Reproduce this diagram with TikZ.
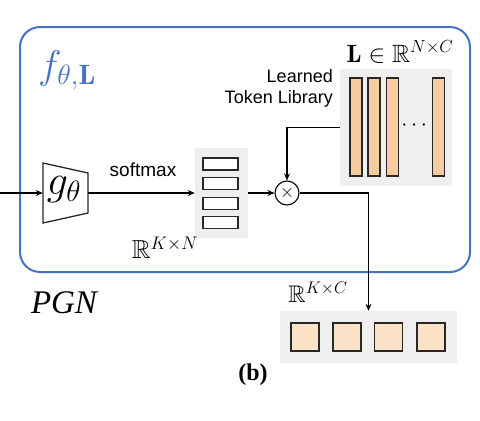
\RequirePackage{fix-cm}
\documentclass[tikz,border=0pt]{standalone}
\usepackage{amsmath,amssymb}
\usepackage{fontspec}
\newfontfamily\sansf{Liberation Sans}
\newfontfamily\timesf{Liberation Serif}
\usetikzlibrary{arrows.meta}
\definecolor{frameblue}{RGB}{72,114,196}
\definecolor{bargold}{RGB}{246,205,158}
\definecolor{sqfill}{RGB}{251,226,198}
\definecolor{panel}{RGB}{239,239,239}
\definecolor{edge}{RGB}{40,40,40}
\begin{document}
\begin{tikzpicture}[x=1pt,y=-1pt,
  frame/.style={draw=frameblue,line width=2pt,rounded corners=20pt},
  panelbox/.style={fill=panel,draw=none,inner sep=0pt},
  bar/.style={draw=edge,fill=bargold,line width=1.3pt,inner sep=0pt,minimum width=12pt,minimum height=98pt},
  rowbox/.style={draw=edge,fill=white,line width=1.3pt,inner sep=0pt,minimum width=35pt,minimum height=12pt},
  sq/.style={draw=edge,fill=sqfill,line width=1.3pt,inner sep=0pt,minimum width=28pt,minimum height=28pt},
  conn/.style={draw=black,line width=1.1pt,-{Stealth[length=7pt,width=6pt]}},
  sanslabel/.style={font=\sansf\fontsize{19}{21}\selectfont,inner sep=0pt}
]
\useasboundingbox (0,0) rectangle (480,421);
% outer frame
\draw[frame] (20,27) rectangle (470,272);
\node[text=frameblue,inner sep=0pt] (f) at (67,70) {\fontsize{40}{44}\selectfont$f_{\theta,\mathbf{L}}$};
% library
\node[panelbox,minimum width=112pt,minimum height=117pt] (lib) at (396,127.5) {};
\node[bar] (b1) at (356,127) {};
\node[bar] (b2) at (374,127) {};
\node[bar] (b3) at (392.5,127) {};
\node[bar] (b4) at (438.5,127) {};
\node[inner sep=0pt] (dots) at (416,126) {\fontsize{22}{24}\selectfont$\cdots$};
\node[inner sep=0pt] (Llab) at (400,52) {\fontsize{25}{28}\selectfont$\mathbf{L}\in\mathbb{R}^{N\times C}$};
\node[inner sep=0pt,align=right,anchor=east,font=\sansf\fontsize{18}{21}\selectfont] (libtxt) at (333,88) {Learned\\Token Library};
% g theta
\draw[edge,line width=1.3pt] (43,163) -- (88,173) -- (88,213) -- (43,223) -- cycle;
\node[minimum width=45pt,minimum height=60pt,inner sep=0pt] (g) at (65.5,193) {};
\node[inner sep=0pt] (gtxt) at (64,190) {\fontsize{42}{46}\selectfont$g_\theta$};
\coordinate (in) at (0,193);
% softmax matrix
\node[panelbox,minimum width=53pt,minimum height=90pt] (mat) at (221.5,193) {};
\node[rowbox] (r1) at (220.5,164) {};
\node[rowbox] (r2) at (220.5,183.5) {};
\node[rowbox] (r3) at (220.5,203.5) {};
\node[rowbox] (r4) at (220.5,222.5) {};
\node[sanslabel] (smx) at (143,170) {softmax};
\node[inner sep=0pt] (RKN) at (165,248) {\fontsize{26}{28}\selectfont$\mathbb{R}^{K\times N}$};
% product
\node[circle,draw=black,line width=1.1pt,minimum size=24pt,inner sep=0pt] (ot) at (287,193) {\fontsize{18}{18}\selectfont$\times$};
% output
\node[panelbox,minimum width=177pt,minimum height=52pt] (out) at (368.5,337) {};
\node[sq] (s1) at (305,337) {};
\node[sq] (s2) at (347,337) {};
\node[sq] (s3) at (388.5,337) {};
\node[sq] (s4) at (431,337) {};
\node[inner sep=0pt] (RKC) at (318,292) {\fontsize{24}{26}\selectfont$\mathbb{R}^{K\times C}$};
% labels
\node[inner sep=0pt] (pgn) at (64,303) {\timesf\itshape\fontsize{33}{36}\selectfont PGN};
\node[inner sep=0pt] (bl) at (253,375) {\timesf\bfseries\fontsize{24}{26}\selectfont (b)};
% connectors
\draw[conn] (in) -- (g.west);
\draw[conn] (g.east) -- (mat.west);
\draw[conn] (mat.east) -- (ot.west);
\draw[conn] (lib.west) -| (ot.north);
\draw[conn] (ot.east) -| (out.north);
\end{tikzpicture}
\end{document}
